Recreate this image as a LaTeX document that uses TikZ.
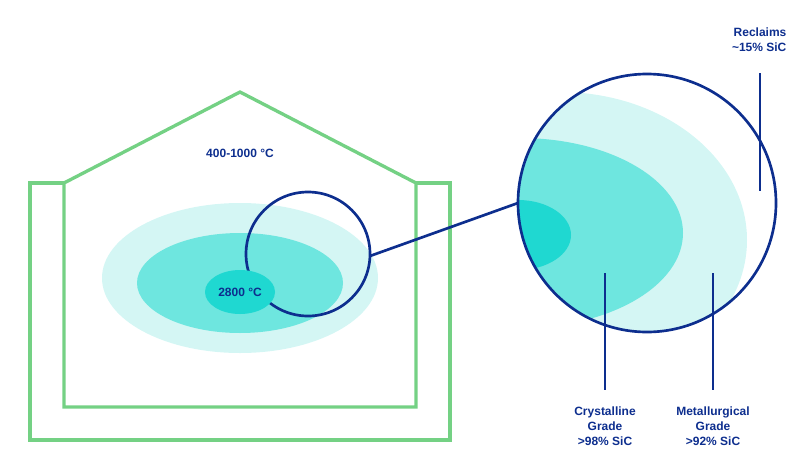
\documentclass[tikz,border=0pt]{standalone}
\usepackage{fontspec}
\setmainfont{Liberation Sans}
\definecolor{wallgreen}{HTML}{74D184}
\definecolor{zonelight}{HTML}{D4F6F4}
\definecolor{zonemid}{HTML}{6EE6DF}
\definecolor{zonecore}{HTML}{1FD8D1}
\definecolor{navy}{HTML}{0D2E8E}
\tikzset{
  lbl/.style={text=navy, font=\fontsize{9}{11.3}\selectfont\bfseries, align=center, inner sep=1pt},
  wall/.style={wallgreen, line width=2.5pt},
  lens/.style={navy, line width=2pt},
  leader/.style={navy, line width=2pt}
}
\begin{document}
\begin{tikzpicture}[x=0.75pt,y=-0.75pt]
  \useasboundingbox (0,0) rectangle (800,461);
  % furnace walls
  \draw [wall] (64,183) -- (64,407) -- (416,407) -- (416,183) -- (240,92) -- cycle;
  \draw [wall] (64,183) -- (30,183) -- (30,440) -- (450,440) -- (450,183) -- (416,183);
  % heat zones
  \fill [zonelight] (240,278) ellipse (138 and 75);
  \fill [zonemid] (240,283) ellipse (103 and 50);
  \coordinate (lenscentre) at (308,254);
  \draw [lens] (lenscentre) circle (62);
  \fill [zonecore] (240,292) ellipse (35 and 22);
  \node [lbl] (hot) at (240,292) {2800 °C};
  \node [lbl] (warm) at (240,153) {400-1000 °C};
  % magnified view
  \coordinate (zoomcentre) at (647,203);
  \begin{scope}
    \clip (zoomcentre) circle (129);
    \fill [zonelight] (560,240) ellipse (187 and 148);
    \fill [zonemid] (520,233) ellipse (163 and 95);
    \fill [zonecore] (518,235) ellipse (53 and 35);
  \end{scope}
  \draw [lens] (zoomcentre) circle (129);
  \coordinate (lensout) at (370,256);
  \coordinate (zoomin) at (518,203);
  \draw [lens] (lensout) -- (zoomin);
  % leaders and labels
  \node [lbl, anchor=north east, align=right] (reclaims) at (788,26) {Reclaims\\\textasciitilde15\% SiC};
  \node [lbl, anchor=north] (cryst) at (605,405) {Crystalline\\Grade\\>98\% SiC};
  \node [lbl, anchor=north] (metal) at (713,405) {Metallurgical\\Grade\\>92\% SiC};
  \coordinate (rtop) at (760,73);
  \coordinate (rbot) at (760,191);
  \coordinate (ctop) at (605,273);
  \coordinate (mtop) at (713,273);
  \draw [leader] (rtop) -- (rbot);
  \draw [leader] (ctop) -- (605,390);
  \draw [leader] (mtop) -- (713,390);
\end{tikzpicture}
\end{document}
